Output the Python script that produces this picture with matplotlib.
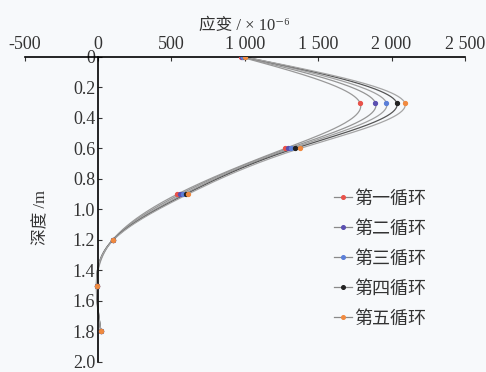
import numpy as np
import matplotlib
matplotlib.use("Agg")
import matplotlib.pyplot as plt

plt.rcParams['font.family'] = ['Liberation Serif', 'Noto Sans CJK SC', 'DejaVu Sans']
plt.rcParams['axes.unicode_minus'] = False

# 测点深度 (m) 与各循环应变 (×10^-6)
depth = [0.0, 0.3, 0.6, 0.9, 1.2, 1.5, 1.8]
cycle1 = [975, 1785, 1275, 540, 100, -10, 20]
cycle2 = [980, 1890, 1295, 560, 100, -10, 20]
cycle3 = [990, 1965, 1315, 580, 100, -10, 20]
cycle4 = [1000, 2035, 1340, 598, 102, -10, 20]
cycle5 = [1000, 2090, 1375, 612, 105, -10, 20]
labels = ['第一循环', '第二循环', '第三循环', '第四循环', '第五循环']

x_ticks = [-500, 0, 500, 1000, 1500, 2000, 2500]
x_ticklabels = ['-500', '0', '500', '1 000', '1 500', '2 000', '2 500']
y_ticks = [0, 0.2, 0.4, 0.6, 0.8, 1.0, 1.2, 1.4, 1.6, 1.8, 2.0]
y_ticklabels = ['0'] + [f'{v:.1f}' for v in y_ticks[1:]]


def natural_spline(t, v, tt):
    # 自然三次样条，仅用于画平滑曲线
    t = np.asarray(t, float)
    v = np.asarray(v, float)
    n = len(t)
    h = np.diff(t)
    A = np.zeros((n, n))
    b = np.zeros(n)
    A[0, 0] = A[-1, -1] = 1.0
    for i in range(1, n - 1):
        A[i, i - 1] = h[i - 1]
        A[i, i] = 2 * (h[i - 1] + h[i])
        A[i, i + 1] = h[i]
        b[i] = 6 * ((v[i + 1] - v[i]) / h[i] - (v[i] - v[i - 1]) / h[i - 1])
    M = np.linalg.solve(A, b)
    idx = np.clip(np.searchsorted(t, tt) - 1, 0, n - 2)
    t0, t1 = t[idx], t[idx + 1]
    hh = t1 - t0
    a = (t1 - tt) / hh
    c = (tt - t0) / hh
    return (a * v[idx] + c * v[idx + 1]
            + ((a ** 3 - a) * M[idx] + (c ** 3 - c) * M[idx + 1]) * hh ** 2 / 6)


fig = plt.figure(figsize=(4.86, 3.72), dpi=100, facecolor='#f7f9fb')
ax = fig.add_axes([0.0506, 0.0269, 0.906, 0.8199])
ax.set_facecolor('#f7f9fb')

series = [cycle1, cycle2, cycle3, cycle4, cycle5]
marker_colors = ['#e8524a', '#5a4fb0', '#5b7fd8', '#222222', '#f08a40']
line_colors = ['#999999', '#959595', '#a0a0a0', '#555555', '#a5a5a5']

dd = np.linspace(0, 1.8, 300)
for vals, mc, lc, lab in zip(series, marker_colors, line_colors, labels):
    ax.plot(natural_spline(depth, vals, dd), dd, color=lc, lw=0.9, zorder=2)
    ax.plot(vals, depth, ls='none', marker='o', ms=2.8, mfc=mc, mec=mc, zorder=3)
    # 图例句柄
    ax.plot([], [], color='#8a8a8a', lw=0.9, marker='o', ms=2.6, mfc=mc, mec=mc,
            label=lab)

ax.set_xlim(-500, 2500)
ax.set_ylim(2.0, 0)

ax.spines['right'].set_visible(False)
ax.spines['bottom'].set_visible(False)
ax.spines['left'].set_position(('data', 0))
ax.spines['top'].set_linewidth(1.2)
ax.spines['left'].set_linewidth(1.2)

ax.xaxis.set_ticks_position('top')
ax.xaxis.set_label_position('top')
ax.set_xticks(x_ticks)
ax.set_xticklabels(x_ticklabels)
ax.set_yticks(y_ticks)
ax.set_yticklabels(y_ticklabels)
ax.tick_params(axis='x', direction='in', length=3, pad=3, labelsize=13, colors='#333333')
ax.tick_params(axis='y', direction='in', length=3, pad=2, labelsize=13, colors='#333333')

ax.set_xlabel('应变 / × 10⁻⁶', fontsize=12, labelpad=4, color='#333333')
ax.text(-385, 1.05, '深度 /m', rotation=90, fontsize=12, ha='center', va='center',
        color='#333333')

ax.legend(loc='upper left', bbox_to_anchor=(0.665, 0.615), frameon=False, fontsize=13,
          handlelength=1.0, handletextpad=0.15, labelspacing=0.72, labelcolor='#333333')

fig.savefig('out.png', dpi=100, facecolor=fig.get_facecolor())
